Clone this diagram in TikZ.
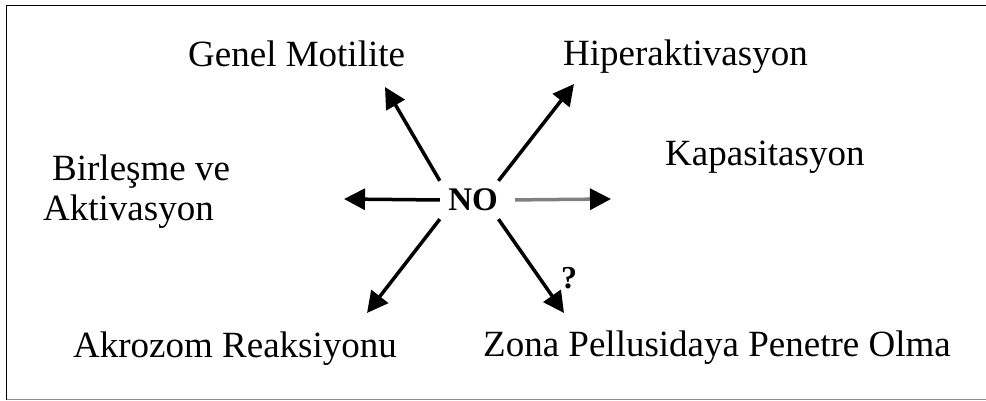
\documentclass[tikz,border=0pt]{standalone}
\usepackage{fontspec}
\setmainfont{Liberation Serif}
\usepackage{tikz}
\usetikzlibrary{arrows.meta}
\tikzstyle{txtnode} = [draw=none, fill=none, anchor=base west, inner sep=0pt, font=\fontsize{37}{44}\selectfont]
\tikzstyle{hub} = [rectangle, draw=none, minimum width=66pt, minimum height=38pt, inner sep=0pt, font=\bfseries\fontsize{33}{38}\selectfont]
\tikzstyle{effect} = [draw, line width=3.5pt, -{Triangle[length=21pt,width=21pt]}]
\tikzstyle{faint}  = [effect, draw=black!50, -{Triangle[length=21pt,width=21pt,black]}]

\begin{document}
\begin{tikzpicture}[x=1pt, y=-1pt]
	\useasboundingbox (0,0) rectangle (986,401);

	% frame
	\draw [line width=1.5pt] (986,5.5) -- (6.5,5.5) -- (6.5,399.5);
	\draw [line width=1.5pt, black!45] (6.5,399.5) -- (986,399.5);

	% place nodes
	\node [hub] (no) at (473,200) {NO};
	\node [txtnode] (motilite)  at (188,67)  {Genel Motilite};
	\node [txtnode] (hiper)     at (563,66)  {Hiperaktivasyon};
	\node [txtnode] (kapasite)  at (665,166) {Kapasitasyon};
	\node [txtnode] (birlesme)  at (52,181)  {Birleşme ve};
	\node [txtnode] (aktiv)     at (43,221)  {Aktivasyon};
	\node [txtnode] (akrozom)   at (73,357)  {Akrozom Reaksiyonu};
	\node [txtnode] (zona)      at (483,356) {Zona Pellusidaya Penetre Olma};
	\node [inner sep=0pt, font=\bfseries\fontsize{32}{36}\selectfont] (soru) at (569,278) {?};

	% arrow ends
	\coordinate (tipUL) at (385,87);
	\coordinate (tipUR) at (574,84);
	\coordinate (tipL)  at (344,199);
	\coordinate (tipR)  at (611,199);
	\coordinate (tipLL) at (367,313);
	\coordinate (tipLR) at (564,313);

	% draw edges
	\path [effect] (no.north west) -- (tipUL);
	\path [effect] (no.37) -- (tipUR);
	\path [effect] (no.west) -- (tipL);
	\path [faint, shorten <=9pt] (no.east) -- (tipR);
	\path [effect] (no.south west) -- (tipLL);
	\path [effect] (no.-37) -- (tipLR);
\end{tikzpicture}
\end{document}
